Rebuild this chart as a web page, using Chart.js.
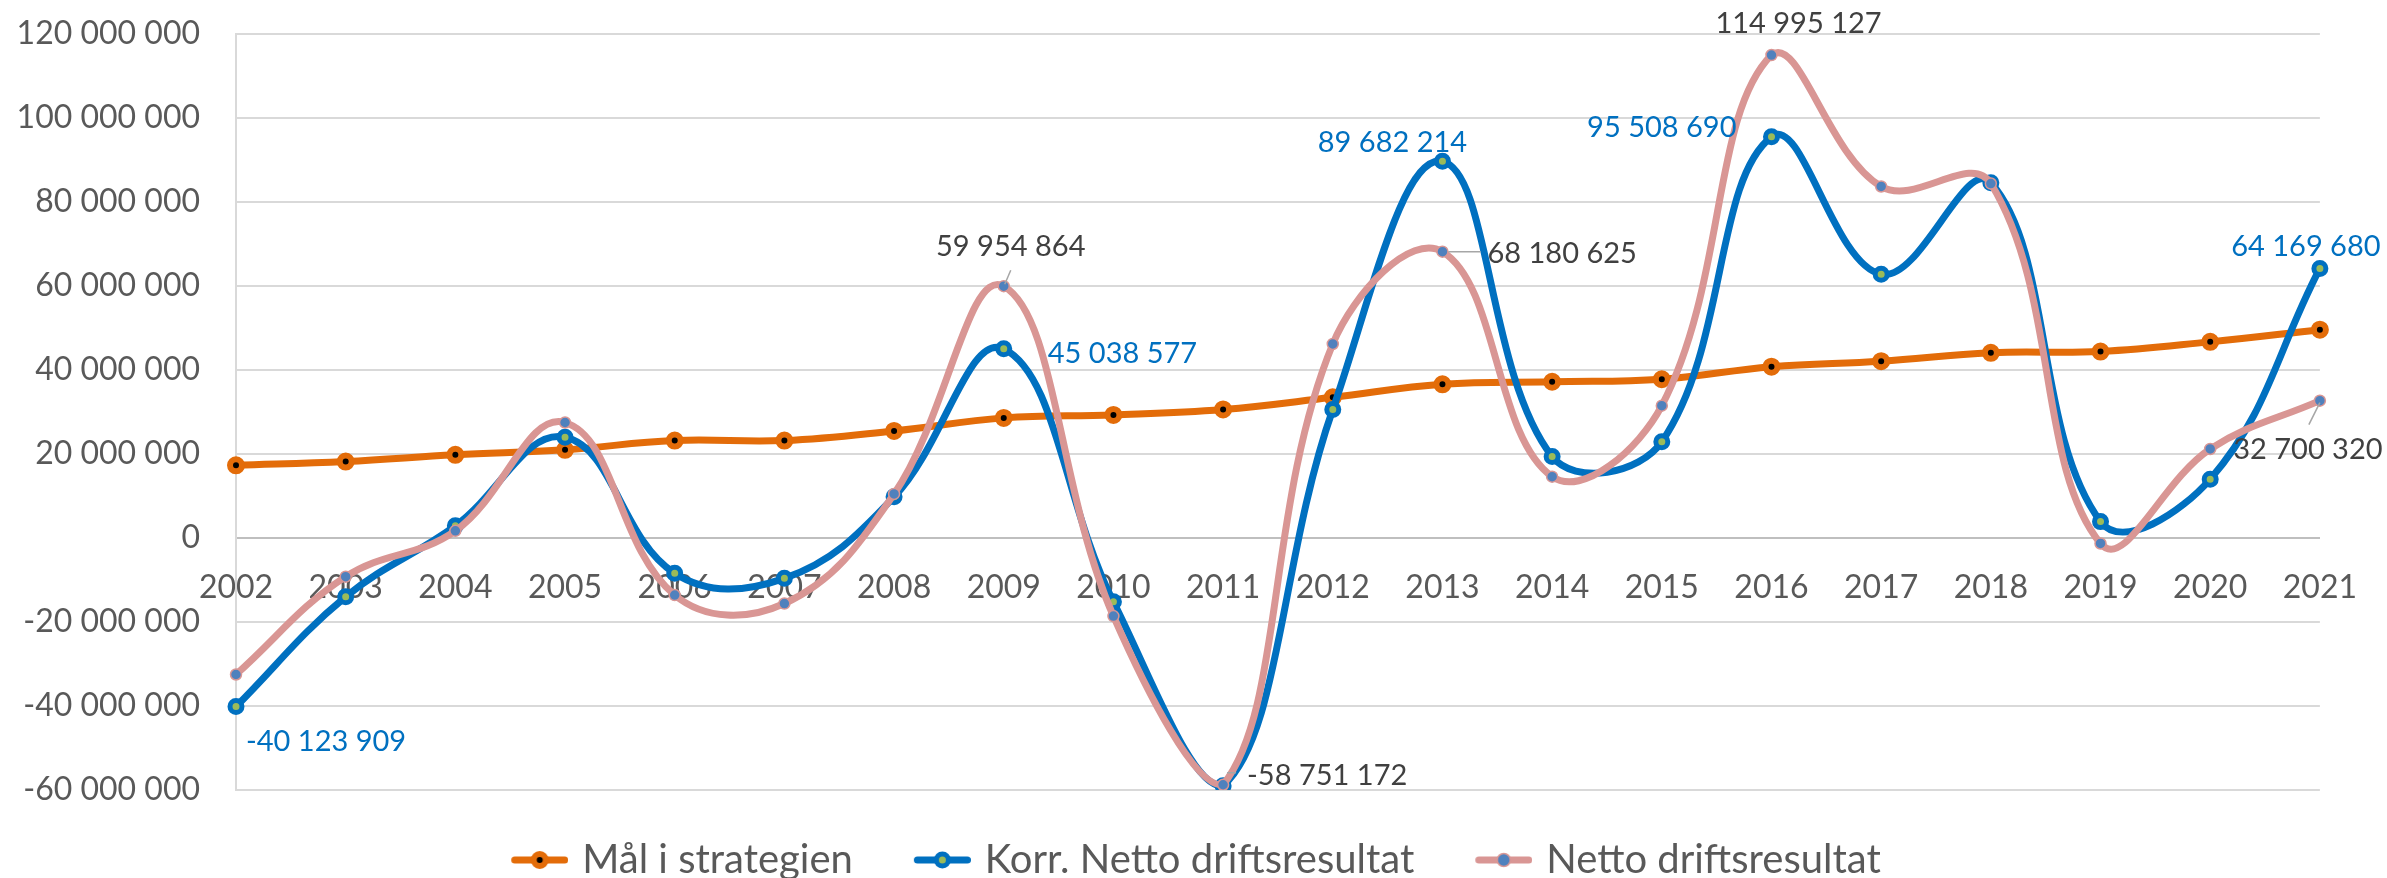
<!DOCTYPE html>
<html>
<head>
<meta charset="utf-8">
<script src="https://cdn.jsdelivr.net/npm/chart.js@4.4.0/dist/chart.umd.min.js"></script>
<style>
  html, body { margin: 0; padding: 0; background: #fff; }
  canvas { display: block; }
</style>
</head>
<body>
<canvas id="driftChart" width="2387" height="878"></canvas>
<script>
// Values (NOK)
const years = ['2002', '2003', '2004', '2005', '2006', '2007', '2008', '2009', '2010', '2011',
               '2012', '2013', '2014', '2015', '2016', '2017', '2018', '2019', '2020', '2021'];

const maalStrategi = [17300000, 18200000, 19800000, 21000000, 23200000, 23200000, 25500000, 28600000, 29300000, 30600000,
                      33500000, 36600000, 37200000, 37800000, 40800000, 42100000, 44100000, 44400000, 46700000, 49600000];

const korrNetto = [-40123909, -14000000, 2900000, 24000000, -8400000, -9600000, 9800000, 45038577, -15200000, -59000000,
                   30600000, 89682214, 19400000, 22900000, 95508690, 62800000, 84600000, 3900000, 14000000, 64169680];

const netto = [-32500000, -9200000, 1700000, 27500000, -13600000, -15600000, 10500000, 59954864, -18600000, -58751172,
               46200000, 68180625, 14600000, 31500000, 114995127, 83700000, 84400000, -1300000, 21200000, 32700320];

const yMin = -60000000;
const yMax = 120000000;
const yStep = 20000000;

// which points carry a value label (dataset, index) and where the text sits
const labelSpots = [
    { ds: 1, i: 0,  dx: 10,  dy: 35,  align: 'left' },
    { ds: 1, i: 7,  dx: 44,  dy: 5,   align: 'left' },
    { ds: 1, i: 11, dx: -50, dy: -19, align: 'center' },
    { ds: 1, i: 14, dx: -35, dy: -9,  align: 'right' },
    { ds: 1, i: 19, dx: -14, dy: -22, align: 'center' },
    { ds: 2, i: 7,  dx: 7,   dy: -40, align: 'center', leader: [1, -2, 7, -16] },
    { ds: 2, i: 9,  dx: 24,  dy: -9,  align: 'left',   leader: [4, -12, 13, -12] },
    { ds: 2, i: 11, dx: 45,  dy: 2,   align: 'left',   leader: [6, 0, 38, 0] },
    { ds: 2, i: 14, dx: 27,  dy: -31, align: 'center' },
    { ds: 2, i: 19, dx: -12, dy: 49,  align: 'center', leader: [0, 2, -11, 24] }
];

function fmt(v) {
    const s = Math.abs(Math.round(v)).toString().replace(/\B(?=(\d{3})+(?!\d))/g, ' ');
    return (v < 0 ? '-' : '') + s;
}

// little line + marker pictures for the legend
function legendIcon(lineColor, lineWidth, fill, border, radius, borderW) {
    const c = document.createElement('canvas');
    c.width = 74;
    c.height = 28;
    const g = c.getContext('2d');
    g.strokeStyle = lineColor;
    g.lineWidth = lineWidth;
    g.lineCap = 'round';
    g.beginPath();
    g.moveTo(20.5, 14);
    g.lineTo(70.5, 14);
    g.stroke();
    g.beginPath();
    g.arc(45.5, 14, radius, 0, Math.PI * 2);
    g.fillStyle = fill;
    g.fill();
    g.lineWidth = borderW;
    g.strokeStyle = border;
    g.stroke();
    return c;
}

const icons = [
    legendIcon('#E36C09', 7, '#000000', '#E36C09', 6, 6),
    legendIcon('#0070C0', 7, '#9BBB59', '#0070C0', 6, 5),
    legendIcon('#D99694', 7, '#4F81BD', '#D99694', 6.5, 1.5)
];

const dataLabels = {
    id: 'dataLabels',
    afterDatasetsDraw(chart) {
        const ctx = chart.ctx;
        ctx.save();
        ctx.font = '29px Lato';
        ctx.textBaseline = 'middle';
        labelSpots.forEach(s => {
            const pt = chart.getDatasetMeta(s.ds).data[s.i];
            const value = chart.data.datasets[s.ds].data[s.i];
            if (s.leader) {
                ctx.strokeStyle = '#A6A6A6';
                ctx.lineWidth = 1.5;
                ctx.beginPath();
                ctx.moveTo(pt.x + s.leader[0], pt.y + s.leader[1]);
                ctx.lineTo(pt.x + s.leader[2], pt.y + s.leader[3]);
                ctx.stroke();
            }
            ctx.fillStyle = s.ds === 1 ? '#0070C0' : '#404040';
            ctx.textAlign = s.align;
            ctx.fillText(fmt(value), pt.x + s.dx, pt.y + s.dy);
        });
        ctx.restore();
    }
};

// the y tick labels are clipped to the scale box, so let that box reach the canvas edge
const yLabelRoom = {
    id: 'yLabelRoom',
    afterLayout(chart) {
        chart.scales.y.left = 0;
    }
};

const tickFont = { family: 'Lato', size: 32 };

new Chart(document.getElementById('driftChart'), {
    type: 'line',
    data: {
        labels: years,
        datasets: [{
            label: 'Mål i strategien',
            data: maalStrategi,
            borderColor: '#E36C09',
            borderWidth: 7,
            pointRadius: 6,
            pointBorderWidth: 6,
            pointBackgroundColor: '#000000',
            pointBorderColor: '#E36C09',
            tension: 0.4,
            order: 2
        }, {
            label: 'Korr. Netto driftsresultat',
            data: korrNetto,
            borderColor: '#0070C0',
            borderWidth: 7,
            pointRadius: 6,
            pointBorderWidth: 5,
            pointBackgroundColor: '#9BBB59',
            pointBorderColor: '#0070C0',
            tension: 0.4,
            order: 1
        }, {
            label: 'Netto driftsresultat',
            data: netto,
            borderColor: '#D99694',
            borderWidth: 7,
            pointRadius: 5.5,
            pointBorderWidth: 1.5,
            pointBackgroundColor: '#4F81BD',
            pointBorderColor: '#D99694',
            tension: 0.4,
            order: 0
        }]
    },
    options: {
        responsive: false,
        animation: false,
        layout: { padding: { left: 59, right: 65, top: 34, bottom: 0 } },
        plugins: {
            tooltip: { enabled: false },
            legend: {
                position: 'bottom',
                maxHeight: 88,
                labels: {
                    usePointStyle: true,
                    pointStyleWidth: 62,
                    padding: 50,
                    color: '#595959',
                    font: { family: 'Lato', size: 40 },
                    generateLabels: chart => chart.data.datasets.map((d, i) => ({
                        text: d.label,
                        pointStyle: icons[i],
                        datasetIndex: i,
                        hidden: false,
                        fontColor: '#595959',
                        lineWidth: 0,
                        strokeStyle: 'rgba(0,0,0,0)',
                        fillStyle: 'rgba(0,0,0,0)'
                    }))
                }
            }
        },
        scales: {
            x: {
                position: { y: 0 },
                offset: false,
                grid: { display: false, drawTicks: false },
                border: { color: '#BFBFBF', width: 2 },
                ticks: { font: tickFont, color: '#595959', padding: 30, autoSkip: false, maxRotation: 0 }
            },
            y: {
                min: yMin,
                max: yMax,
                ticks: { stepSize: yStep, padding: 36, font: tickFont, color: '#595959', callback: v => fmt(v) },
                grid: { color: '#D9D9D9', lineWidth: 2, drawTicks: false },
                border: { color: '#D9D9D9', width: 2 },
                afterFit(scale) {
                    scale.width = 177;
                    scale.paddingTop = 0;
                    scale.paddingBottom = 0;
                }
            }
        }
    },
    plugins: [dataLabels, yLabelRoom]
});
</script>
</body>
</html>
